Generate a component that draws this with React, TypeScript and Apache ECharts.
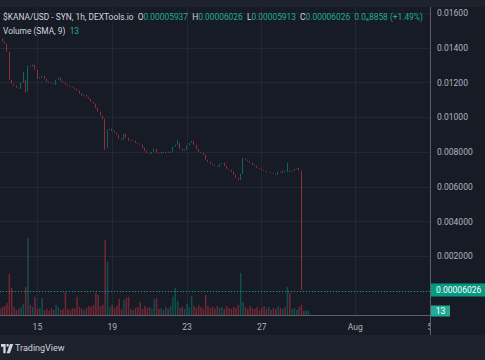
import React, { useEffect, useRef } from "react";
import * as echarts from "echarts";

// 3-hour candles, first slot = Jul 13 00:00
const START_UTC = Date.UTC(2024, 6, 13, 0, 0, 0);
const SLOT_HOURS = 3;
const SLOT_COUNT = 185;

const tickCategories = ["07-15 00", "07-19 00", "07-23 00", "07-27 00", "08-01 00", "08-05 00"];
const tickTexts = ["15", "19", "23", "27", "Aug", "5"];
const priceTicks = { min: 0, max: 0.016, step: 0.002 };

const firstOpen = 0.0146;
const closes = [
  0.01453, 0.01435, 0.01424, 0.01378, 0.01216, 0.01193, 0.01182, 0.0117, 0.01164, 0.01199,
  0.01216, 0.01147, 0.01297, 0.01291, 0.01303, 0.01274, 0.01222, 0.01228, 0.01239, 0.01222,
  0.01205, 0.01199, 0.01193, 0.01187, 0.01216, 0.01228, 0.0121, 0.01199, 0.01187, 0.01182,
  0.01176, 0.0117, 0.01164, 0.01153, 0.01136, 0.01124, 0.0113, 0.01118, 0.01107, 0.01089,
  0.01078, 0.01055, 0.01032, 0.01009, 0.00991, 0.00824, 0.00928, 0.00934, 0.00922, 0.00911,
  0.00899, 0.00876, 0.0087, 0.00905, 0.00882, 0.00865, 0.0087, 0.00865, 0.00853, 0.00847,
  0.00842, 0.00824, 0.00807, 0.00795, 0.0079, 0.00801, 0.00818, 0.00795, 0.0079, 0.00801,
  0.00795, 0.00801, 0.00795, 0.00801, 0.0083, 0.00842, 0.00853, 0.00818, 0.00807, 0.00813,
  0.00836, 0.00853, 0.00865, 0.00842, 0.00818, 0.00801, 0.00795, 0.00784, 0.00755, 0.00744,
  0.00732, 0.00726, 0.0072, 0.00715, 0.00732, 0.00738, 0.0072, 0.00703, 0.00697, 0.00686,
  0.00669, 0.00651, 0.0064, 0.00674, 0.00761, 0.00755, 0.00749, 0.00738, 0.00726, 0.0072,
  0.00709, 0.00703, 0.00697, 0.00692, 0.00686, 0.00686, 0.0068, 0.00674, 0.00669, 0.00686,
  0.0068, 0.00692, 0.00686, 0.00692, 0.00686, 0.00692, 0.00703, 0.00709, 0.00692, 0.0000592,
  0.000059, 0.00005937, 0.00006026,
];
const wickHighs: Record<number, number> = { 10: 0.01262, 76: 0.0087, 104: 0.00767, 123: 0.00738 };
const wickLows: Record<number, number> = { 11: 0.01141, 45: 0.00813, 132: 0.00005913 };

// change shown in the header (as read from the source)
const changeText = "0.0₆8858";
const changePctText = "+1.49%";

const volumes = [
  20, 26, 29, 39, 133, 88, 26, 16, 20, 26,
  36, 91, 250, 33, 26, 59, 20, 23, 55, 16,
  20, 13, 23, 16, 33, 26, 16, 20, 75, 20,
  16, 23, 20, 59, 26, 20, 16, 23, 29, 26,
  33, 72, 65, 29, 33, 244, 172, 26, 33, 23,
  29, 52, 20, 49, 55, 59, 20, 16, 23, 26,
  42, 20, 29, 23, 26, 20, 52, 55, 20, 23,
  16, 26, 20, 29, 59, 88, 46, 23, 26, 20,
  36, 26, 62, 29, 23, 33, 26, 20, 65, 29,
  23, 26, 20, 29, 23, 26, 20, 29, 23, 20,
  26, 23, 33, 137, 42, 26, 20, 29, 23, 20,
  26, 16, 23, 29, 20, 26, 16, 23, 20, 29,
  23, 20, 26, 91, 72, 20, 23, 16, 26, 33,
  13, 16, 13,
];
const volumeMax = 276;

const UP = "#089981";
const DOWN = "#f23645";
const BG = "#171b26";
const PANEL = "#1e222d";
const GRID = "#232733";
const TEXT = "#b2b5be";
const FONT = "Roboto, 'Noto Sans', sans-serif";

const pad = (n: number) => (n < 10 ? "0" + n : "" + n);
const categories: string[] = [];
for (let i = 0; i < SLOT_COUNT; i++) {
  const d = new Date(START_UTC + i * SLOT_HOURS * 3600 * 1000);
  categories.push(`${pad(d.getUTCMonth() + 1)}-${pad(d.getUTCDate())} ${pad(d.getUTCHours())}`);
}

const opens = closes.map((c, i) => (i === 0 ? firstOpen : closes[i - 1]));
const candles = closes.map((c, i) => {
  const o = opens[i];
  const hi = wickHighs[i] ?? Math.max(o, c);
  const lo = wickLows[i] ?? Math.min(o, c);
  return [o, c, lo, hi];
});
const volData = volumes.map((v, i) => ({
  value: v,
  itemStyle: { color: closes[i] >= opens[i] ? "rgba(8,153,129,0.42)" : "rgba(242,54,69,0.42)" },
}));

const last = closes.length - 1;
const lastClose = closes[last];
const lastOpen = opens[last];
const lastHigh = candles[last][3];
const lastLow = candles[last][2];
const lastVol = volumes[last];

const fmtPrice = (v: number) => (v >= 0.01 ? v.toFixed(5) : v.toFixed(6));
const fmt8 = (v: number) => v.toFixed(8);

const isTick = (_i: number, v: string) => tickCategories.includes(v);

echarts.graphic.registerShape(
  "tvlogo",
  echarts.graphic.extendPath(
    "M0 0H14V28H7V8H0Z M16 4a4 4 0 1 0 8 0a4 4 0 1 0 -8 0Z M27 0H37L27 28H17Z",
    {}
  )
);

export default function App() {
  const ref = useRef<HTMLDivElement>(null);
  useEffect(() => {
    const chart = echarts.init(ref.current!, null, { renderer: "svg" });
    const gridCommon = { left: 0, right: 55, containLabel: false };
    chart.setOption({
      animation: false,
      backgroundColor: BG,
      grid: [
        { ...gridCommon, top: 7, bottom: 45 },
        { ...gridCommon, top: 13, height: 278 },
        { ...gridCommon, top: 230, height: 85 },
      ],
      xAxis: [
        {
          type: "category",
          gridIndex: 0,
          data: categories,
          boundaryGap: false,
          axisLine: { show: true, lineStyle: { color: "#5d606b", width: 1 } },
          axisTick: { show: false },
          axisLabel: {
            interval: isTick,
            formatter: (v: string) => tickTexts[tickCategories.indexOf(v)] ?? "",
            color: TEXT,
            fontSize: 8.5,
            fontFamily: FONT,
            margin: 7,
          },
          splitLine: { show: true, interval: isTick, lineStyle: { color: GRID, width: 1 } },
        },
        { type: "category", gridIndex: 1, data: categories, boundaryGap: false, show: false },
        { type: "category", gridIndex: 2, data: categories, boundaryGap: false, show: false },
      ],
      yAxis: [
        { type: "value", gridIndex: 0, show: false, min: 0, max: 1, splitLine: { show: false } },
        {
          type: "value",
          gridIndex: 1,
          position: "right",
          min: priceTicks.min,
          max: priceTicks.max,
          interval: priceTicks.step,
          axisLine: { show: false },
          axisTick: { show: false },
          axisLabel: {
            color: TEXT,
            fontSize: 8.5,
            fontFamily: FONT,
            margin: 7,
            showMinLabel: false,
            formatter: (v: number) => fmtPrice(v),
          },
          splitLine: { show: true, lineStyle: { color: GRID, width: 1 } },
        },
        { type: "value", gridIndex: 2, show: false, min: 0, max: volumeMax, splitLine: { show: false } },
      ],
      series: [
        {
          type: "bar",
          xAxisIndex: 2,
          yAxisIndex: 2,
          data: volData,
          barWidth: 1.5,
          z: 1,
        },
        {
          type: "candlestick",
          xAxisIndex: 1,
          yAxisIndex: 1,
          data: candles,
          barWidth: 1.3,
          z: 3,
          itemStyle: {
            color: UP,
            color0: DOWN,
            borderColor: UP,
            borderColor0: DOWN,
            borderWidth: 0.6,
          },
          markLine: {
            silent: true,
            symbol: ["none", "none"],
            label: { show: false },
            lineStyle: { color: UP, type: [1, 2], width: 1 },
            data: [{ yAxis: lastClose }],
          },
        },
      ],
    });

    const py = chart.convertToPixel({ yAxisIndex: 1 }, lastClose) as number;
    const vy = chart.convertToPixel({ yAxisIndex: 2 }, lastVol) as number;

    chart.setOption({
      graphic: [
        { type: "rect", id: "topband", shape: { x: 0, y: 0, width: 485, height: 7 }, style: { fill: PANEL }, z: 10 },
        { type: "rect", id: "footer", shape: { x: 0, y: 335, width: 485, height: 25 }, style: { fill: PANEL }, z: 10 },
        { type: "rect", id: "cover5", shape: { x: 431, y: 316, width: 54, height: 19 }, style: { fill: BG }, z: 10 },
        { type: "line", id: "vline", shape: { x1: 430.5, y1: 7, x2: 430.5, y2: 335 }, style: { stroke: "#5d606b", lineWidth: 1 }, z: 11 },
        {
          type: "text",
          id: "legend1",
          z: 12,
          style: {
            x: 3,
            y: 17,
            verticalAlign: "middle",
            fontFamily: FONT,
            fontSize: 8.4,
            fill: "#d1d4dc",
            text:
              "{t|$KANA/USD - SYN, 1h, DEXTools.io}  " +
              `{t|O}{v|${fmt8(lastOpen)}}  {t|H}{v|${fmt8(lastHigh)}}  {t|L}{v|${fmt8(lastLow)}}  {t|C}{v|${fmt8(lastClose)}}  ` +
              `{v|${changeText} (${changePctText})}`,
            rich: {
              t: { fill: "#d1d4dc", fontSize: 8.4, fontFamily: FONT },
              v: { fill: "#22ab94", fontSize: 8.4, fontFamily: FONT },
            },
          },
        },
        {
          type: "text",
          id: "legend2",
          z: 12,
          style: {
            x: 3,
            y: 31,
            verticalAlign: "middle",
            fontFamily: FONT,
            fontSize: 8.4,
            fill: "#d1d4dc",
            text: `{t|Volume (SMA, 9)}  {v|${lastVol}}`,
            rich: {
              t: { fill: "#d1d4dc", fontSize: 8.4, fontFamily: FONT },
              v: { fill: "#22ab94", fontSize: 8.4, fontFamily: FONT },
            },
          },
        },
        { type: "rect", id: "pbox", z: 12, shape: { x: 431, y: py - 6.5, width: 54, height: 13 }, style: { fill: UP } },
        {
          type: "text",
          id: "ptext",
          z: 13,
          style: { x: 436, y: py, text: fmt8(lastClose), fill: "#ffffff", fontSize: 8.5, fontFamily: FONT, verticalAlign: "middle" },
        },
        { type: "rect", id: "vbox", z: 12, shape: { x: 431, y: vy - 5.5, width: 19, height: 11 }, style: { fill: "#22ab94" } },
        {
          type: "text",
          id: "vtext",
          z: 13,
          style: { x: 440.5, y: vy, text: String(lastVol), fill: "#ffffff", fontSize: 8.5, fontFamily: FONT, verticalAlign: "middle", align: "center" },
        },
        { type: "tvlogo", id: "logo", z: 12, x: 1, y: 344, scaleX: 0.33, scaleY: 0.33, style: { fill: "#d1d4dc" } },
        {
          type: "text",
          id: "tv",
          z: 12,
          style: { x: 15, y: 348, text: "TradingView", fill: "#d1d4dc", fontSize: 9, fontFamily: FONT, verticalAlign: "middle" },
        },
      ],
    });
    return () => chart.dispose();
  }, []);
  return <div ref={ref} style={{ position: "fixed", left: 0, top: 0, width: 485, height: 360 }} />;
}
